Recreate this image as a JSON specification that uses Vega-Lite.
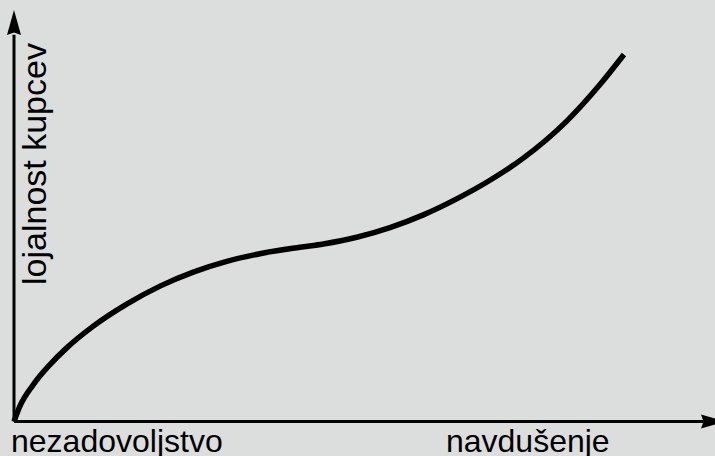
{
  "$schema": "https://vega.github.io/schema/vega-lite/v6.json",
  "width": 715,
  "height": 456,
  "padding": 0,
  "autosize": {"type": "none"},
  "background": "#dcdede",
  "config": {"view": {"stroke": null}},
  "encoding": {
    "x": {"field": "u", "type": "quantitative", "scale": {"domain": [-2, 100.143], "nice": false, "zero": false}, "axis": null},
    "y": {"field": "v", "type": "quantitative", "scale": {"domain": [-8.384, 102.43], "nice": false, "zero": false}, "axis": null}
  },
  "layer": [
    {
      "data": {"values": [
        {"u": 0, "v": 0, "u2": 0, "v2": 94},
        {"u": 0, "v": 0, "u2": 98.5, "v2": 0}
      ]},
      "mark": {"type": "rule", "color": "#000000", "strokeWidth": 3},
      "encoding": {
        "x2": {"field": "u2"},
        "y2": {"field": "v2"}
      }
    },
    {
      "data": {"values": [
        {"u": 0, "v": 0},
        {"u": 0.857, "v": 3.79},
        {"u": 2.757, "v": 8.97},
        {"u": 5.143, "v": 13.83},
        {"u": 7.529, "v": 17.89},
        {"u": 11.33, "v": 23.18},
        {"u": 16.1, "v": 28.53},
        {"u": 20.86, "v": 32.9},
        {"u": 25.61, "v": 36.3},
        {"u": 30.39, "v": 38.91},
        {"u": 35.14, "v": 40.78},
        {"u": 40.86, "v": 42.34},
        {"u": 44.19, "v": 43.14},
        {"u": 48.96, "v": 44.77},
        {"u": 53.71, "v": 47.12},
        {"u": 58.47, "v": 50.21},
        {"u": 63.24, "v": 54.1},
        {"u": 68.0, "v": 58.62},
        {"u": 72.76, "v": 64.0},
        {"u": 78.96, "v": 72.99},
        {"u": 83.71, "v": 81.88},
        {"u": 87.14, "v": 89.18}
      ]},
      "mark": {"type": "line", "color": "#000000", "strokeWidth": 5.5, "interpolate": "monotone", "strokeCap": "butt"}
    },
    {
      "data": {"values": [{"u": 0, "v": 96.96}]},
      "mark": {"type": "point", "shape": "M0,-1L0.56,1L0,0.8L-0.56,1Z", "filled": true, "color": "#000000", "opacity": 1, "size": 625, "angle": 0}
    },
    {
      "data": {"values": [{"u": 99.93, "v": 0}]},
      "mark": {"type": "point", "shape": "M0,-1L0.56,1L0,0.8L-0.56,1Z", "filled": true, "color": "#000000", "opacity": 1, "size": 625, "angle": 90, "clip": true}
    },
    {
      "data": {"values": [
        {"u": -0.43, "v": -7.34, "label": "nezadovoljstvo"},
        {"u": 61.71, "v": -7.34, "label": "navdušenje"}
      ]},
      "mark": {"type": "text", "align": "left", "baseline": "alphabetic", "font": "Liberation Sans", "fontSize": 32, "color": "#000000"},
      "encoding": {"text": {"field": "label"}}
    },
    {
      "data": {"values": [{"u": 4.57, "v": 33.17, "label": "lojalnost kupcev"}]},
      "mark": {"type": "text", "align": "left", "baseline": "alphabetic", "angle": 270, "font": "Liberation Sans", "fontSize": 34, "color": "#000000"},
      "encoding": {"text": {"field": "label"}}
    }
  ]
}
